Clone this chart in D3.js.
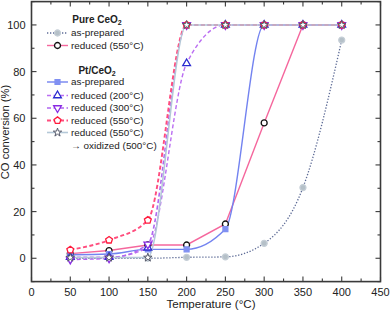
<!DOCTYPE html>
<meta charset="utf-8">
<head>
    <script src="https://d3js.org/d3.v7.min.js"></script>
</head>
<style>
    body { margin: 0; background: #fff; }
    svg { display: block; font-family: "Liberation Sans", Arial, sans-serif; }
</style>
<body>
<svg id="chart" width="390" height="312"></svg>
<script>
    'use strict';

    const temps = [50, 100, 150, 200, 250, 300, 350, 400];

    const ceo2AsPrep = [0, 0, 0, 0.4, 0.6, 6.4, 30.3, 93.5];
    const ceo2Red550 = [2, 3.3, 5.7, 5.7, 14.7, 58, 100, 100];
    const ptAsPrep = [1.5, 1.8, 3.8, 3.8, 12.5, 100, 100, 100];
    const ptRed200 = [0.5, 0.5, 4.5, 83.5, 100, 100, 100, 100];
    const ptRed300 = [-0.5, 0, 6, 100, 100, 100, 100, 100];
    const ptRed550 = [3.6, 7.8, 16.3, 100, 100, 100, 100, 100];
    const ptRedOx = [0.3, 0.3, 0.3, 100, 100, 100, 100, 100];

    const xTicks = [0, 50, 100, 150, 200, 250, 300, 350, 400, 450];
    const yTicks = [0, 20, 40, 60, 80, 100];

    // series styles (line + marker)
    const series = [
        { name: "as-prepared", values: ceo2AsPrep, line: "#5d6b96", width: 1.3, dash: "1.3,1.7", sym: "circle", fill: "#b5c0c8", stroke: "#c5ced6" },
        { name: "reduced (550°C)", values: ceo2Red550, line: "#f5679d", width: 1.4, dash: null, sym: "circle", fill: "#fff", stroke: "#111", straight: true },
        { name: "as-prepared", values: ptAsPrep, line: "#7383f0", width: 1.4, dash: null, sym: "square", fill: "#8090f2", stroke: "#8090f2" },
        { name: "reduced (200°C)", values: ptRed200, line: "#bb6ef2", width: 1.4, dash: "4,2.5", sym: "triangle", fill: "#fff", stroke: "#2a2ad0" },
        { name: "reduced (300°C)", values: ptRed300, line: "#b066f0", width: 1.6, dash: "4,2.5", sym: "triangleDown", fill: "#fff", stroke: "#8a2be2" },
        { name: "reduced (550°C)", values: ptRed550, line: "#ff4d7e", width: 1.9, dash: "4,2.5", sym: "pentagon", fill: "#fff", stroke: "#ff1a3c" },
        { name: "reduced (550°C)", values: ptRedOx, line: "#b4c8d8", width: 1.6, dash: null, sym: "star", fill: "#fff", stroke: "#55596a" }
    ];

    const margin = { top: 1.6, right: 9.5, bottom: 30.4, left: 31.5 },
        width = 390 - margin.left - margin.right,
        height = 312 - margin.top - margin.bottom;

    const svg = d3.select("#chart");
    const g = svg.append("g").attr("transform", `translate(${margin.left},${margin.top})`);

    const x = d3.scaleLinear().domain([0, 450]).range([0, width]);
    const y = d3.scaleLinear().domain([-10, 110]).range([height, 0]);

    const symbols = {
        circle: d3.symbolCircle,
        square: d3.symbolSquare,
        triangle: d3.symbolTriangle,
        star: d3.symbolStar
    };

    function drawSymbol(sel, s, cx, cy) {
        let path, rot = 0;
        if (s.sym === "pentagon") {
            const r = 3.6;
            const pts = d3.range(5).map(i => {
                const a = -Math.PI / 2 + i * 2 * Math.PI / 5;
                return [r * Math.cos(a), r * Math.sin(a)];
            });
            path = "M" + pts.join("L") + "Z";
        } else if (s.sym === "triangleDown") {
            path = d3.symbol(d3.symbolTriangle, 26)();
            rot = 180;
        } else {
            const size = { circle: 28, square: 24, triangle: 26, star: 22 }[s.sym];
            path = d3.symbol(symbols[s.sym], size)();
        }
        sel.append("path").attr("d", path)
            .attr("transform", `translate(${cx},${cy}) rotate(${rot})`)
            .attr("fill", s.fill).attr("stroke", s.stroke)
            .attr("stroke-width", s.sym === "star" ? 1 : 1.3);
    }

    // lines
    const line = d3.line()
        .x((d, i) => x(temps[i]))
        .y(d => y(d));

    series.forEach(s => {
        line.curve(s.straight ? d3.curveLinear : d3.curveMonotoneX);
        g.append("path")
            .datum(s.values)
            .attr("d", line)
            .attr("fill", "none")
            .attr("stroke", s.line)
            .attr("stroke-width", s.width)
            .attr("stroke-dasharray", s.dash);
    });

    // markers
    series.forEach(s => {
        const mg = g.append("g");
        s.values.forEach((v, i) => drawSymbol(mg, s, x(temps[i]), y(v)));
    });

    // frame + ticks
    const axisColor = "#3a3a3a";
    g.append("rect").attr("width", width).attr("height", height)
        .attr("fill", "none").attr("stroke", axisColor).attr("stroke-width", 1.6);

    const xMinor = d3.range(25, 450, 50);
    const yMinor = d3.range(-10, 111, 20);

    const ticks = g.append("g").attr("stroke", axisColor).attr("stroke-width", 1.1);
    xTicks.forEach(t => {
        ticks.append("line").attr("x1", x(t)).attr("x2", x(t)).attr("y1", height).attr("y2", height - 5);
        ticks.append("line").attr("x1", x(t)).attr("x2", x(t)).attr("y1", 0).attr("y2", 5);
    });
    xMinor.forEach(t => {
        ticks.append("line").attr("x1", x(t)).attr("x2", x(t)).attr("y1", height).attr("y2", height - 3);
        ticks.append("line").attr("x1", x(t)).attr("x2", x(t)).attr("y1", 0).attr("y2", 3);
    });
    yTicks.forEach(t => {
        ticks.append("line").attr("x1", 0).attr("x2", 5).attr("y1", y(t)).attr("y2", y(t));
        ticks.append("line").attr("x1", width).attr("x2", width - 5).attr("y1", y(t)).attr("y2", y(t));
    });
    yMinor.forEach(t => {
        ticks.append("line").attr("x1", 0).attr("x2", 3).attr("y1", y(t)).attr("y2", y(t));
        ticks.append("line").attr("x1", width).attr("x2", width - 3).attr("y1", y(t)).attr("y2", y(t));
    });

    // tick labels
    g.append("g").selectAll("text").data(xTicks).join("text")
        .attr("x", d => x(d)).attr("y", height + 14.3)
        .attr("text-anchor", "middle").attr("font-size", 11).attr("fill", "#222")
        .text(d => d);
    g.append("g").selectAll("text").data(yTicks).join("text")
        .attr("x", -6).attr("y", d => y(d) + 4)
        .attr("text-anchor", "end").attr("font-size", 11).attr("fill", "#222")
        .text(d => d);

    // axis titles
    svg.append("text").attr("x", 211).attr("y", 307.5)
        .attr("text-anchor", "middle").attr("font-size", 11.6).attr("fill", "#222")
        .text("Temperature (°C)");
    svg.append("text").attr("transform", "translate(9,132) rotate(-90)")
        .attr("text-anchor", "middle").attr("font-size", 11.2).attr("fill", "#222")
        .text("CO conversion (%)");

    // legend
    const leg = svg.append("g").attr("font-size", 9.9).attr("fill", "#222");

    function heading(txt, yc) {
        const t = leg.append("text").attr("x", 97).attr("y", yc + 3.5)
            .attr("text-anchor", "middle").attr("font-weight", "bold").attr("font-size", 10);
        t.append("tspan").text(txt);
        t.append("tspan").attr("font-size", 7).attr("dy", 2).text("2");
    }
    heading("Pure CeO", 19);
    heading("Pt/CeO", 70);

    const rows = [33, 45.5, 82, 95.5, 108, 120.5, 132.5];
    series.forEach((s, i) => {
        const yc = rows[i];
        leg.append("line").attr("x1", 47).attr("x2", 68).attr("y1", yc).attr("y2", yc)
            .attr("stroke", s.line).attr("stroke-width", s.width).attr("stroke-dasharray", s.dash);
        drawSymbol(leg, s, 57.5, yc);
        leg.append("text").attr("x", 71).attr("y", yc + 3.4).text(s.name);
    });
    leg.append("text").attr("x", 71).attr("y", 145.5 + 3.4).text("→ oxidized (500°C)");
</script>
</body>
